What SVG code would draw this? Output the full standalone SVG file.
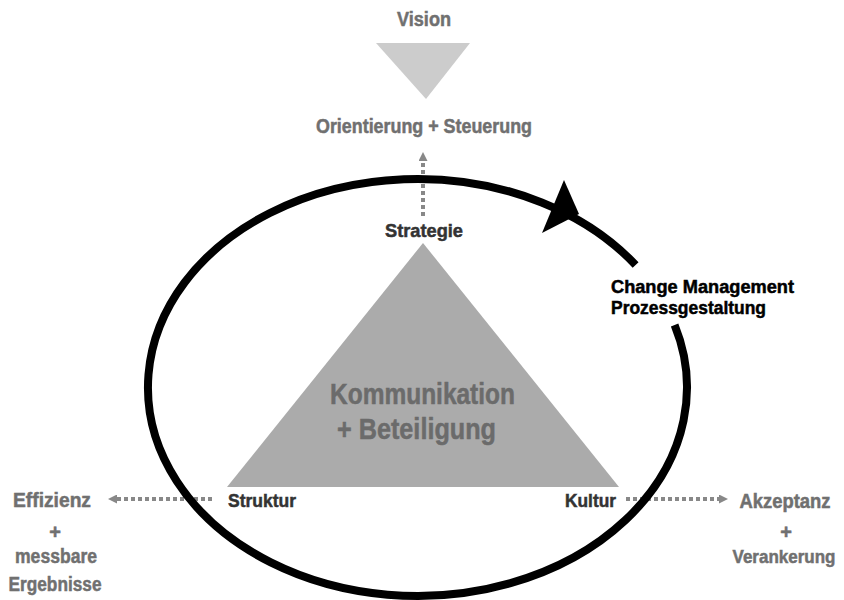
<svg xmlns="http://www.w3.org/2000/svg" width="844" height="600" viewBox="0 0 844 600">
<defs>
<style>
text{font-family:"Liberation Sans",Arial,sans-serif;font-weight:bold;stroke-width:0.5px;}
.g{fill:#707070;stroke:#707070;font-size:20px;text-anchor:middle;}
.d{fill:#333333;stroke:#333333;font-size:18.5px;text-anchor:middle;}
.k{fill:#000000;stroke:#000000;font-size:18px;}
.big{fill:#6b6b6b;stroke:#6b6b6b;font-size:29px;}
.dots{stroke:#888888;stroke-width:4;stroke-dasharray:4 3;fill:none;}
.cycle{stroke:#000000;stroke-width:8;fill:none;}
</style>
<marker id="ah" viewBox="0 0 10 10" refX="0" refY="5" markerWidth="9" markerHeight="9" markerUnits="userSpaceOnUse" orient="auto">
<path d="M0,0 L10,5 L0,10 Z" fill="#888888"/>
</marker>
</defs>
<rect width="844" height="600" fill="#ffffff"/>

<g id="vision">
<text class="g" x="424" y="26" textLength="54" lengthAdjust="spacingAndGlyphs">Vision</text>
<polygon points="376,43 470,43 426,99" fill="#cccccc"/>
</g>
<g id="orientierung">
<text class="g" x="424" y="133" textLength="216" lengthAdjust="spacingAndGlyphs">Orientierung + Steuerung</text>
</g>
<g id="triangle">
<polygon points="423,243 227,487 619,487" fill="#ababab"/>
<text class="big" x="330" y="404" textLength="185" lengthAdjust="spacingAndGlyphs">Kommunikation</text>
<text class="big" x="337" y="439" textLength="159" lengthAdjust="spacingAndGlyphs">+ Beteiligung</text>
</g>
<g id="strategie">
<text class="d" x="424" y="237" textLength="78" lengthAdjust="spacingAndGlyphs">Strategie</text>
</g>
<g id="struktur">
<text class="d" x="262" y="507" textLength="68" lengthAdjust="spacingAndGlyphs">Struktur</text>
</g>
<g id="kultur">
<text class="d" x="590.5" y="507" textLength="51" lengthAdjust="spacingAndGlyphs">Kultur</text>
</g>
<g id="change">
<text class="k" x="611" y="293" textLength="183" lengthAdjust="spacingAndGlyphs">Change Management</text>
<text class="k" x="611" y="314" textLength="155" lengthAdjust="spacingAndGlyphs">Prozessgestaltung</text>
</g>
<g id="effizienz">
<text class="g" x="52" y="507" textLength="78" lengthAdjust="spacingAndGlyphs">Effizienz</text>
<text class="g" x="55" y="539">+</text>
<text class="g" x="56" y="563" textLength="82" lengthAdjust="spacingAndGlyphs">messbare</text>
<text class="g" x="55" y="591" textLength="93" lengthAdjust="spacingAndGlyphs">Ergebnisse</text>
</g>
<g id="akzeptanz">
<text class="g" x="785" y="508" textLength="91" lengthAdjust="spacingAndGlyphs">Akzeptanz</text>
<text class="g" x="786" y="539">+</text>
<text class="g" x="784" y="563" textLength="103" lengthAdjust="spacingAndGlyphs" style="font-size:18.5px">Verankerung</text>
</g>

<g id="connectors">
<line class="dots" x1="423" y1="216" x2="423" y2="161" marker-end="url(#ah)"/>
<line class="dots" x1="212" y1="499" x2="117" y2="499" marker-end="url(#ah)"/>
<line class="dots" x1="626" y1="499" x2="719" y2="499" marker-end="url(#ah)"/>
<path class="cycle" d="M674.6,325 A269.5,208.5 0 1 1 635.6,265"/>
<polygon points="564,180 579,214 542,233" fill="#000000"/>
</g>
</svg>
